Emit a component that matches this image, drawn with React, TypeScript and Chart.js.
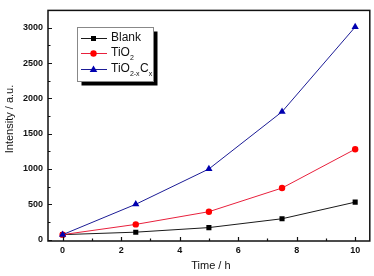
import React, { useEffect, useRef } from "react";
import { Chart, registerables } from "chart.js";

Chart.register(...registerables);

const times = [0, 2.5, 5, 7.5, 10];
const blank = [70, 105, 170, 295, 530];
const tio2 = [70, 215, 395, 730, 1280];
const tio2xcx = [70, 500, 1000, 1810, 3010];
const xTicks = [0, 2, 4, 6, 8, 10];
const xMinor = [1, 3, 5, 7, 9];
const yTicks = [0, 500, 1000, 1500, 2000, 2500, 3000];
const yMinor = [250, 750, 1250, 1750, 2250, 2750];
// legend label segments: [text, isSubscript]
const legendLabels: [string, boolean][][] = [
  [["Blank", false]],
  [["TiO", false], ["2", true]],
  [["TiO", false], ["2-x", true], ["C", false], ["x", true]],
];
const xTitle = "Time / h";
const yTitle = "Intensity / a.u.";

const colors = ["#1a1a1a", "#e8203c", "#1c1c96"];
const pointColors = ["#000000", "#ff0000", "#0000b0"];
const styles = ["rect", "circle", "triangle"];
const radii = [3.6, 3.2, 4.2];

export default function App() {
  const ref = useRef<HTMLCanvasElement | null>(null);
  useEffect(() => {
    document.body.style.margin = "0";
    const series = [blank, tio2, tio2xcx];
    const deco = {
      id: "deco",
      afterDraw(chart: any) {
        const ctx = chart.ctx;
        const { left, right, top, bottom } = chart.chartArea;
        const xs = chart.scales.x;
        const ys = chart.scales.y;
        ctx.save();
        ctx.strokeStyle = "#111";
        ctx.lineWidth = 1.5;
        ctx.strokeRect(left, top, right - left, bottom - top);
        ctx.lineWidth = 1.2;
        ctx.beginPath();
        xTicks.forEach((v) => {
          const p = Math.round(xs.getPixelForValue(v)) + 0.5;
          ctx.moveTo(p, bottom);
          ctx.lineTo(p, bottom - 4);
        });
        xMinor.forEach((v) => {
          const p = Math.round(xs.getPixelForValue(v)) + 0.5;
          ctx.moveTo(p, bottom);
          ctx.lineTo(p, bottom - 2.5);
        });
        yTicks.forEach((v) => {
          const p = Math.round(ys.getPixelForValue(v)) + 0.5;
          ctx.moveTo(left, p);
          ctx.lineTo(left + 4, p);
        });
        yMinor.forEach((v) => {
          const p = Math.round(ys.getPixelForValue(v)) + 0.5;
          ctx.moveTo(left, p);
          ctx.lineTo(left + 2.5, p);
        });
        ctx.stroke();

        // axis titles
        ctx.fillStyle = "#111";
        ctx.font = "11px 'Liberation Sans', Arial, sans-serif";
        ctx.textAlign = "center";
        ctx.textBaseline = "middle";
        ctx.fillText(xTitle, (left + right) / 2 + 2, 266);
        ctx.save();
        ctx.translate(10, 119);
        ctx.rotate(-Math.PI / 2);
        ctx.fillText(yTitle, 0, 0);
        ctx.restore();

        // legend
        const bx = 77.5, by = 27.5, bw = 76, bh = 54;
        ctx.fillStyle = "#000";
        ctx.fillRect(bx + 4, by + 4, bw, bh);
        ctx.fillStyle = "#fff";
        ctx.fillRect(bx, by, bw, bh);
        ctx.strokeStyle = "#888";
        ctx.lineWidth = 1;
        ctx.strokeRect(bx, by, bw, bh);
        const rows = [38, 53, 69];
        legendLabels.forEach((segs, i) => {
          const y = rows[i];
          ctx.strokeStyle = colors[i];
          ctx.lineWidth = 1;
          ctx.beginPath();
          ctx.moveTo(81, y + 0.5);
          ctx.lineTo(107, y + 0.5);
          ctx.stroke();
          ctx.fillStyle = pointColors[i];
          const cx = 93.5;
          if (styles[i] === "rect") {
            ctx.fillRect(cx - 2.5, y - 2, 5, 5);
          } else if (styles[i] === "circle") {
            ctx.beginPath();
            ctx.arc(cx, y + 0.5, 3.2, 0, Math.PI * 2);
            ctx.fill();
          } else {
            ctx.beginPath();
            ctx.moveTo(cx, y - 3.5);
            ctx.lineTo(cx + 3.8, y + 3);
            ctx.lineTo(cx - 3.8, y + 3);
            ctx.closePath();
            ctx.fill();
          }
          let tx = 111;
          ctx.fillStyle = "#111";
          ctx.textAlign = "left";
          ctx.textBaseline = "middle";
          segs.forEach(([t, sub]) => {
            if (sub) {
              ctx.font = "7px 'Liberation Sans', Arial, sans-serif";
              ctx.fillText(t, tx, y + 5);
            } else {
              ctx.font = "12px 'Liberation Sans', Arial, sans-serif";
              ctx.fillText(t, tx, y);
            }
            tx += ctx.measureText(t).width + (sub ? 0.5 : 0);
          });
        });
        ctx.restore();
      },
    };
    const tickFont = { family: "'Liberation Sans', Arial, sans-serif", size: 9, weight: "bold" as const };
    const chart = new Chart(ref.current as HTMLCanvasElement, {
      type: "line",
      data: {
        datasets: series.map((s, i) => ({
          label: ["Blank", "TiO2", "TiO2-xCx"][i],
          data: s.map((v, j) => ({ x: times[j], y: v })),
          borderColor: colors[i],
          backgroundColor: pointColors[i],
          pointBackgroundColor: pointColors[i],
          pointBorderColor: pointColors[i],
          pointBorderWidth: 0,
          pointStyle: styles[i] as any,
          pointRadius: radii[i],
          borderWidth: 1,
          tension: 0,
          order: 3 - i,
        })),
      },
      options: {
        animation: false,
        responsive: false,
        layout: { padding: { top: 4, right: 4, left: 0, bottom: 0 } },
        plugins: { legend: { display: false }, tooltip: { enabled: false } },
        scales: {
          x: {
            type: "linear",
            min: -0.5,
            max: 10.5,
            afterBuildTicks: (s: any) => {
              s.ticks = xTicks.map((v) => ({ value: v }));
            },
            afterFit: (s: any) => {
              s.height = 35;
            },
            grid: { display: false, drawTicks: false },
            border: { display: false },
            ticks: {
              padding: 4,
              color: "#111",
              font: tickFont,
              maxRotation: 0,
              callback: (v: any) => String(v),
            },
          },
          y: {
            type: "linear",
            min: -20,
            max: 3245,
            afterBuildTicks: (s: any) => {
              s.ticks = yTicks.map((v) => ({ value: v }));
            },
            afterFit: (s: any) => {
              s.width = 48;
            },
            grid: { display: false, drawTicks: false },
            border: { display: false },
            ticks: {
              padding: 5,
              color: "#111",
              font: tickFont,
              callback: (v: any) => String(v),
            },
          },
        },
      },
      plugins: [deco],
    });
    return () => chart.destroy();
  }, []);
  return (
    <div style={{ position: "absolute", left: 0, top: 0, width: 374, height: 276 }}>
      <canvas ref={ref} width={374} height={276} />
    </div>
  );
}
